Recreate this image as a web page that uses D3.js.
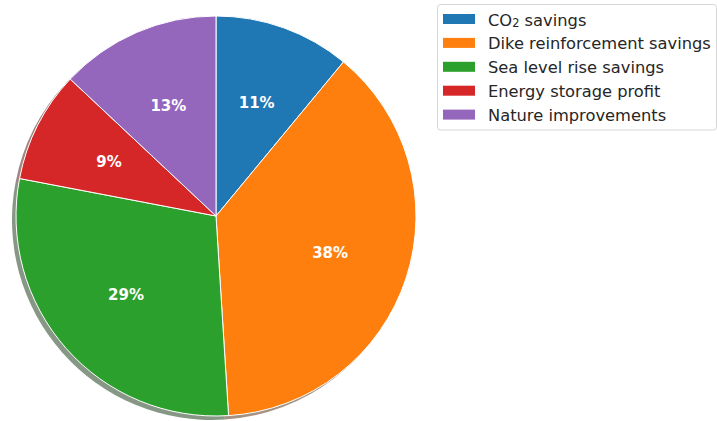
<!DOCTYPE html>
<html>
<head>
<meta charset="utf-8">
<script src="https://cdn.jsdelivr.net/npm/d3@7"></script>
<style>
  body { margin: 0; background: #fff; }
  svg { display: block; font-family: "DejaVu Sans", sans-serif; }
</style>
</head>
<body>
<svg id="chart" width="717" height="421"></svg>
<script>
// Share of total benefits per category (percent)
const categories = ["CO2 savings", "Dike reinforcement savings", "Sea level rise savings", "Energy storage profit", "Nature improvements"];
const shares = [11, 38, 29, 9, 13];
const colors = ["#1f77b4", "#ff7f0e", "#2ca02c", "#d62728", "#9467bd"];

const svg = d3.select("#chart");
const cx = 216, cy = 216, R = 200;

const pie = d3.pie().sort(null).value(d => d.v).startAngle(0).endAngle(2 * Math.PI);
const data = pie(shares.map((v, i) => ({ v, c: colors[i], name: categories[i] })));
const arc = d3.arc().innerRadius(0).outerRadius(R);

// darkened, half-transparent copy of each wedge, offset down-left
const shadow = svg.append("g").attr("transform", `translate(${cx - 4},${cy + 4})`);
shadow.selectAll("path").data(data).join("path")
  .attr("d", arc)
  .attr("fill", d => {
    const c = d3.rgb(d.data.c);
    return d3.rgb(c.r * 0.3, c.g * 0.3, c.b * 0.3);
  })
  .attr("opacity", 0.5);

const g = svg.append("g").attr("transform", `translate(${cx},${cy})`);
g.selectAll("path").data(data).join("path")
  .attr("d", arc)
  .attr("fill", d => d.data.c)
  .attr("stroke", "#fff")
  .attr("stroke-width", 1)
  .attr("stroke-linejoin", "round");

// percentage labels at 60% of the radius
const labelArc = d3.arc().innerRadius(R * 0.6).outerRadius(R * 0.6);
g.selectAll("text").data(data).join("text")
  .attr("transform", d => `translate(${labelArc.centroid(d)})`)
  .attr("text-anchor", "middle")
  .attr("dominant-baseline", "central")
  .attr("fill", "#fff")
  .attr("font-weight", "bold")
  .attr("font-size", 15)
  .text(d => `${d.data.v}%`);

// legend
const lg = svg.append("g").attr("transform", "translate(437,4)");
lg.append("rect")
  .attr("x", 0.5).attr("y", 0.5)
  .attr("width", 279).attr("height", 125.5)
  .attr("rx", 3)
  .attr("fill", "#fff").attr("fill-opacity", 0.8)
  .attr("stroke", "#d6d6d6");

const rowY = i => 15 + i * 23.9;
const rows = lg.selectAll("g.row").data(categories).join("g")
  .attr("class", "row")
  .attr("transform", (d, i) => `translate(0,${rowY(i)})`);
rows.append("rect")
  .attr("x", 6).attr("y", -5)
  .attr("width", 32).attr("height", 10)
  .attr("fill", (d, i) => colors[i]);
rows.append("text")
  .attr("x", 51).attr("y", 0.5)
  .attr("dominant-baseline", "central")
  .attr("font-size", 16.3)
  .attr("fill", "#262626")
  .each(function (d) {
    const t = d3.select(this);
    if (d.startsWith("CO2")) {
      t.append("tspan").text("CO");
      t.append("tspan").attr("font-size", 11.4).attr("dy", 3.5).text("2");
      t.append("tspan").attr("dy", -3.5).text(" savings");
    } else {
      t.text(d);
    }
  });
</script>
</body>
</html>
